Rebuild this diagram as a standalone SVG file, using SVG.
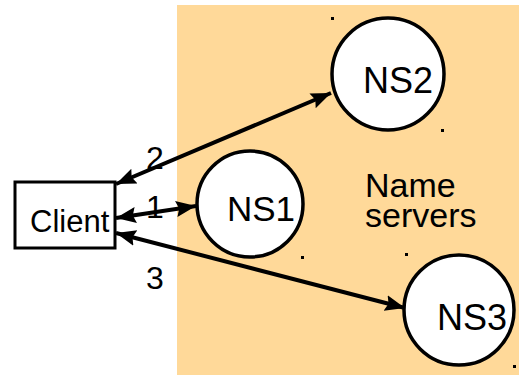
<svg xmlns="http://www.w3.org/2000/svg" width="519" height="375" viewBox="0 0 519 375">
<style>
text{font-family:"Liberation Sans",Arial,sans-serif;fill:#000}
.node{fill:#fff;stroke:#000;stroke-width:3.5}
.conn{stroke:#000;stroke-width:4;fill:none}
.h{fill:#000}
</style>
<defs>
<marker id="ah" markerUnits="userSpaceOnUse" markerWidth="24" markerHeight="20" refX="20" refY="9" orient="auto-start-reverse" viewBox="0 0 24 18">
<path d="M0,1 L20,9 L0,17 L3,9 Z" fill="#000"/>
</marker>
</defs>
<rect x="177" y="5" width="342" height="370" fill="#FFD999"/>
<g id="connectors">
<line class="conn" x1="116" y1="184" x2="331" y2="93" marker-start="url(#ah)" marker-end="url(#ah)"/>
<line class="conn" x1="116" y1="218" x2="196" y2="206" marker-start="url(#ah)" marker-end="url(#ah)"/>
<line class="conn" x1="116" y1="233" x2="405" y2="308" marker-start="url(#ah)" marker-end="url(#ah)"/>
</g>
<g id="client">
<rect x="15" y="182" width="100" height="66" fill="#fff" stroke="#000" stroke-width="3"/>
<text x="30" y="232" font-size="31">Client</text>
</g>
<g id="ns1">
<circle class="node" cx="250" cy="204" r="53"/>
<text x="227" y="221" font-size="35">NS1</text>
<rect class="h" x="301" y="256" width="3" height="3"/>
</g>
<g id="ns2">
<circle class="node" cx="388" cy="74" r="56"/>
<text x="363" y="93" font-size="36">NS2</text>
<rect class="h" x="331" y="17" width="3" height="3"/>
<rect class="h" x="441" y="129" width="3" height="3"/>
</g>
<g id="ns3">
<circle class="node" cx="459" cy="310" r="55"/>
<text x="437" y="330" font-size="36">NS3</text>
<rect class="h" x="405" y="253" width="3" height="3"/>
<rect class="h" x="513" y="365" width="3" height="3"/>
</g>
<g id="name-servers">
<text font-size="34"><tspan x="365" y="197">Name</tspan><tspan x="365" y="227">servers</tspan></text>
</g>
<g id="labels">
<text x="146" y="169" font-size="32">2</text>
<text x="146" y="218" font-size="32">1</text>
<text x="146" y="289" font-size="32">3</text>
</g>
</svg>
